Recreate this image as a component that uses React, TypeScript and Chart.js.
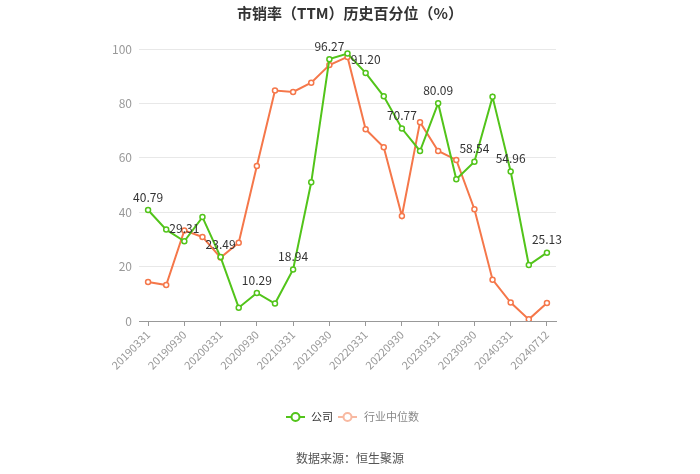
import React, { useEffect, useRef } from "react";
import { Chart, registerables } from "chart.js";

Chart.register(...registerables);

const categories = [
  "20190331", "20190630", "20190930", "20191231",
  "20200331", "20200630", "20200930", "20201231",
  "20210331", "20210630", "20210930", "20211231",
  "20220331", "20220630", "20220930", "20221231",
  "20230331", "20230630", "20230930", "20231231",
  "20240331", "20240630", "20240712",
];

const companyValues = [
  40.79, 33.6, 29.31, 38.2, 23.49, 4.9, 10.29, 6.4, 18.94, 51.0, 96.27, 98.3,
  91.2, 82.6, 70.77, 62.5, 80.09, 52.1, 58.54, 82.4, 54.96, 20.6, 25.13,
];

const industryValues = [
  14.3, 13.2, 33.3, 30.9, 23.3, 28.8, 57.0, 84.7, 84.2, 87.6, 94.1, 97.1,
  70.5, 63.9, 38.6, 73.1, 62.5, 59.2, 41.1, 15.2, 6.8, 0.6, 6.6,
];

const yTicks = [0, 20, 40, 60, 80, 100];

const titleText = "市销率（TTM）历史百分位（%）";
const legendLabels = ["公司", "行业中位数"];
const sourceText = "数据来源：恒生聚源";

const GREEN = "#52c41a";
const ORANGE = "#f5774a";
const FONT = "'Noto Sans CJK SC', 'Noto Sans', sans-serif";

const decorPlugin = {
  id: "decor",
  afterDatasetsDraw(chart: any) {
    const ctx = chart.ctx;
    const meta = chart.getDatasetMeta(0);
    ctx.save();
    ctx.font = `12px ${FONT}`;
    ctx.fillStyle = "#333";
    ctx.textAlign = "center";
    ctx.textBaseline = "middle";
    meta.data.forEach((pt: any, i: number) => {
      if (i % 2 !== 0) return;
      const v = companyValues[i];
      ctx.fillText(v.toFixed(2), pt.x, pt.y - 13);
    });
    ctx.restore();
  },
  afterDraw(chart: any) {
    const ctx = chart.ctx;
    ctx.save();
    // title
    ctx.font = `bold 15px ${FONT}`;
    ctx.fillStyle = "#333";
    ctx.textAlign = "center";
    ctx.textBaseline = "middle";
    ctx.fillText(titleText, 350, 13);

    // legend
    const ly = 417;
    const drawSym = (x: number, color: string) => {
      ctx.strokeStyle = color;
      ctx.lineWidth = 2;
      ctx.beginPath();
      ctx.moveTo(x, ly);
      ctx.lineTo(x + 19, ly);
      ctx.stroke();
      ctx.beginPath();
      ctx.arc(x + 9.5, ly, 4, 0, Math.PI * 2);
      ctx.fillStyle = "#fff";
      ctx.fill();
      ctx.stroke();
    };
    drawSym(286, GREEN);
    drawSym(338, "#f8b9a1");
    ctx.font = `11px ${FONT}`;
    ctx.textAlign = "left";
    ctx.fillStyle = "#333";
    ctx.fillText(legendLabels[0], 311, ly);
    ctx.fillStyle = "#888";
    ctx.fillText(legendLabels[1], 364, ly);

    // source
    ctx.font = `12px ${FONT}`;
    ctx.fillStyle = "#555";
    ctx.textAlign = "center";
    ctx.fillText(sourceText, 350, 458);
    ctx.restore();
  },
};

export default function App() {
  const ref = useRef<HTMLCanvasElement | null>(null);

  useEffect(() => {
    document.body.style.margin = "0";
    if (!ref.current) return;
    const chart = new Chart(ref.current, {
      type: "line",
      data: {
        labels: categories,
        datasets: [
          {
            label: legendLabels[0],
            data: companyValues,
            borderColor: GREEN,
            backgroundColor: "#fff",
            borderWidth: 2,
            pointRadius: 2.5,
            pointBorderWidth: 1.5,
            pointBackgroundColor: "#fff",
            pointBorderColor: GREEN,
            tension: 0,
          },
          {
            label: legendLabels[1],
            data: industryValues,
            borderColor: ORANGE,
            backgroundColor: "#fff",
            borderWidth: 2,
            pointRadius: 2.5,
            pointBorderWidth: 1.5,
            pointBackgroundColor: "#fff",
            pointBorderColor: ORANGE,
            tension: 0,
          },
        ],
      },
      options: {
        animation: false,
        responsive: false,
        maintainAspectRatio: false,
        layout: { padding: { left: 0, right: 144, top: 49, bottom: 0 } },
        plugins: {
          legend: { display: false },
          title: { display: false },
          tooltip: { enabled: false },
        },
        scales: {
          x: {
            type: "category",
            offset: true,
            grid: {
              drawOnChartArea: false,
              drawTicks: true,
              tickLength: 5,
              color: "#999",
            },
            border: { display: true, color: "#999", width: 1 },
            ticks: {
              autoSkip: false,
              maxRotation: 45,
              minRotation: 45,
              color: "#999",
              padding: 2,
              font: { size: 11, family: FONT },
              callback: function (_v: any, i: number) {
                return i % 2 === 0 ? categories[i] : null;
              },
            },
            afterFit: (scale: any) => {
              scale.height = 474 - 321 - 0;
            },
          },
          y: {
            min: 0,
            max: 100,
            afterBuildTicks: (scale: any) => {
              scale.ticks = yTicks.map((v) => ({ value: v }));
            },
            grid: { color: "#e8e8e8", drawTicks: false },
            border: { display: false },
            ticks: {
              color: "#999",
              padding: 7,
              font: { size: 12, family: FONT },
            },
            afterFit: (scale: any) => {
              scale.width = 139;
            },
          },
        },
      },
      plugins: [decorPlugin],
    });
    return () => chart.destroy();
  }, []);

  return (
    <div style={{ position: "absolute", left: 0, top: 0, width: 700, height: 474 }}>
      <canvas ref={ref} width={700} height={474} style={{ width: 700, height: 474 }} />
    </div>
  );
}
